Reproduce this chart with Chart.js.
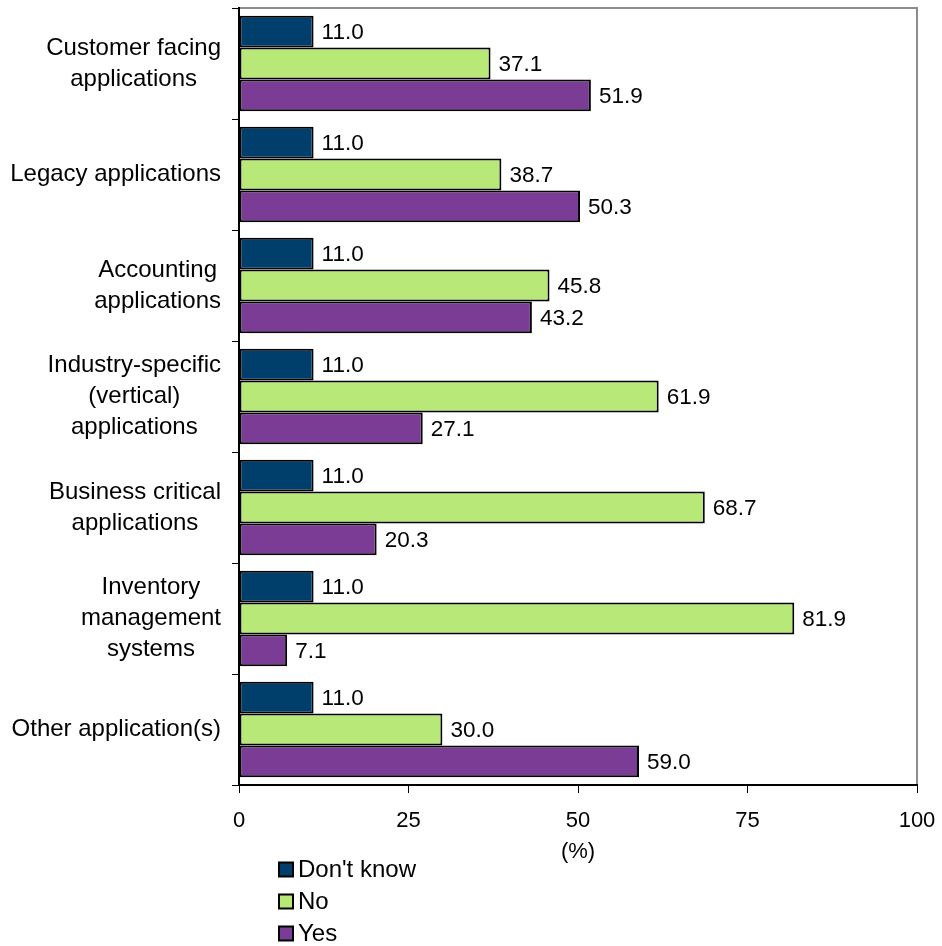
<!DOCTYPE html>
<html>
<head>
<meta charset="utf-8">
<script src="https://cdn.jsdelivr.net/npm/chart.js@4.4.1/dist/chart.umd.min.js"></script>
<style>
html,body{margin:0;padding:0;background:#fff;}
#wrap{width:942px;height:946px;position:relative;}
</style>
</head>
<body>
<div id="wrap"><canvas id="c" width="942" height="946"></canvas></div>
<script>
const categories = [
  ["Customer facing","applications"],
  ["Legacy applications"],
  ["Accounting","applications"],
  ["Industry-specific","(vertical)","applications"],
  ["Business critical","applications"],
  ["Inventory","management","systems"],
  ["Other application(s)"]
];
const seriesNames = ["Don't know","No","Yes"];
const dontKnow = [11.0, 11.0, 11.0, 11.0, 11.0, 11.0, 11.0];
const no = [37.1, 38.7, 45.8, 61.9, 68.7, 81.9, 30.0];
const yes = [51.9, 50.3, 43.2, 27.1, 20.3, 7.1, 59.0];
const xTicks = [0, 25, 50, 75, 100];
const axisTitle = "(%)";

const colors = ["#003F6B", "#B8E878", "#7B3C96"];
const FONT = "'Liberation Sans', Arial, sans-serif";

const decorPlugin = {
  id: 'decor',
  beforeDraw(chart) {
    const {ctx, chartArea: a} = chart;
    ctx.save();
    ctx.strokeStyle = '#8C8C8C';
    ctx.lineWidth = 2;
    ctx.beginPath();
    ctx.moveTo(a.left, a.top);
    ctx.lineTo(a.right, a.top);
    ctx.lineTo(a.right, a.bottom);
    ctx.stroke();
    ctx.restore();
  },
  afterDraw(chart) {
    const {ctx} = chart;
    const yScale = chart.scales.y;
    ctx.save();
    // category labels
    ctx.fillStyle = '#000';
    ctx.font = '24px ' + FONT;
    ctx.textBaseline = 'middle';
    ctx.textAlign = 'center';
    const lh = 31;
    const rightEdge = 221;
    chart.data.labels.forEach((lines, i) => {
      const yc = yScale.getPixelForValue(i);
      let w = 0;
      lines.forEach(l => { w = Math.max(w, ctx.measureText(l).width); });
      const cx = rightEdge - w / 2;
      const y0 = yc - (lines.length - 1) * lh / 2;
      lines.forEach((l, k) => ctx.fillText(l, cx, y0 + k * lh));
    });
    // data labels
    ctx.font = '22.5px ' + FONT;
    ctx.textAlign = 'left';
    chart.data.datasets.forEach((ds, di) => {
      const meta = chart.getDatasetMeta(di);
      meta.data.forEach((bar, i) => {
        ctx.fillText(ds.data[i].toFixed(1), bar.x + 8, bar.y + 1);
      });
    });
    // legend
    ctx.font = '24px ' + FONT;
    chart.data.datasets.forEach((ds, di) => {
      const yc = 869.5 + di * 32;
      ctx.fillStyle = ds.backgroundColor;
      ctx.fillRect(279, yc - 7, 14, 14);
      ctx.strokeStyle = '#000';
      ctx.lineWidth = 2;
      ctx.strokeRect(279, yc - 7, 14, 14);
      ctx.fillStyle = '#000';
      ctx.fillText(ds.label, 298, yc + 1);
    });
    ctx.restore();
  }
};

const datasets = [dontKnow, no, yes].map((d, i) => ({
  label: seriesNames[i],
  data: d,
  backgroundColor: colors[i],
  borderColor: '#000',
  borderWidth: 2,
  borderSkipped: false,
  barPercentage: 1.0,
  categoryPercentage: 0.86
}));

new Chart(document.getElementById('c'), {
  type: 'bar',
  data: { labels: categories, datasets: datasets },
  options: {
    indexAxis: 'y',
    responsive: false,
    animation: false,
    events: [],
    layout: { padding: { left: 0, top: 8, right: 25, bottom: 0 } },
    plugins: { legend: { display: false }, tooltip: { enabled: false } },
    scales: {
      x: {
        min: 0, max: 100,
        afterBuildTicks: (s) => { s.ticks = xTicks.map(v => ({ value: v })); },
        afterFit: (s) => { s.height = 161; s.paddingLeft = 0; s.paddingRight = 0; },
        grid: { drawOnChartArea: false, color: '#000', lineWidth: 1, tickLength: 8 },
        border: { color: '#000', width: 2 },
        ticks: { color: '#000', font: { family: FONT, size: 22 }, padding: 15, maxRotation: 0 },
        title: { display: true, text: axisTitle, color: '#000', font: { family: FONT, size: 22 }, padding: { top: 0, bottom: 81 } }
      },
      y: {
        afterFit: (s) => { s.width = 239; s.paddingTop = 0; s.paddingBottom = 0; },
        grid: { drawOnChartArea: false, color: '#000', lineWidth: 1, tickLength: 7, offset: true },
        border: { color: '#000', width: 2 },
        ticks: { display: false }
      }
    }
  },
  plugins: [decorPlugin]
});
</script>
</body>
</html>
